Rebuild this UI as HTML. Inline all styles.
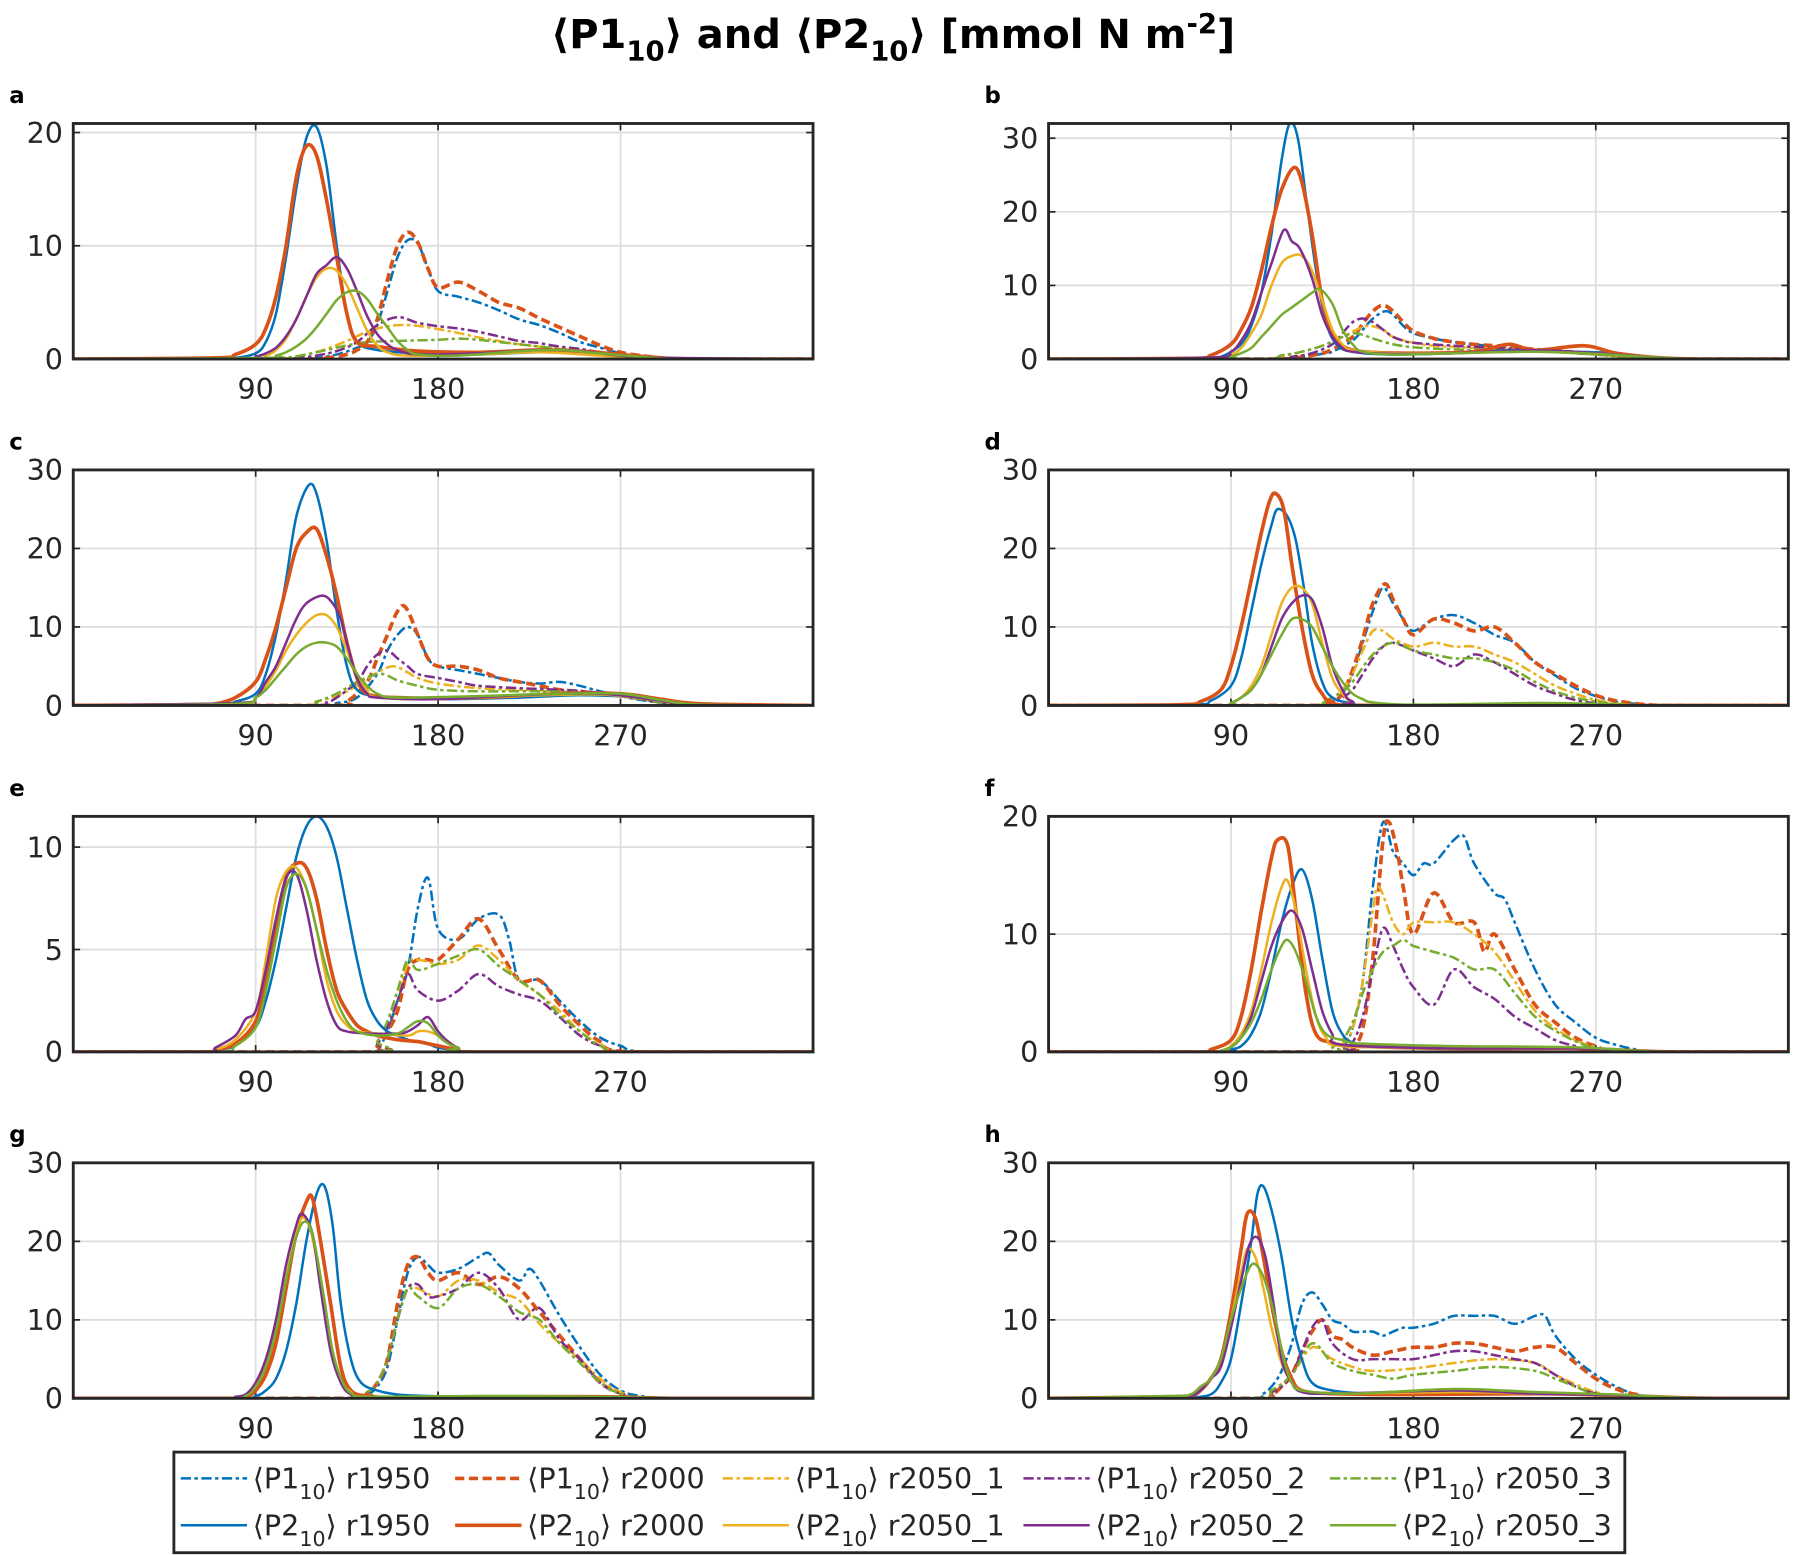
<!DOCTYPE html>
<html><head><meta charset="utf-8"><style>
html,body{margin:0;padding:0;background:#fff}
svg{display:block}
text{font-family:"DejaVu Sans","Liberation Sans",sans-serif;fill:#262626}
</style></head><body>
<svg id="chart" width="1793" height="1555" viewBox="0 0 1568 1360" xmlns="http://www.w3.org/2000/svg">
<text x="781" y="42" text-anchor="middle" font-size="35" font-weight="bold" style="fill:#000">⟨P1<tspan font-size="24" dy="11">10</tspan><tspan dy="-11">⟩ and ⟨P2</tspan><tspan font-size="24" dy="11">10</tspan><tspan dy="-11">⟩ [mmol N m</tspan><tspan font-size="24" dy="-13">-2</tspan><tspan dy="13">]</tspan></text>
<g id="panels"></g>
<g id="legend"></g>
</svg>
<script>
const days = [0,90,180,270,365];
const xTicks = [90,180,270];
const letters = ['a','b','c','d','e','f','g','h'];
const yMax = [20.8,32,30,30,11.5,20,30,30];
const yTicksA = [0,10,20];
const yTicksB = [0,10,20,30];
const yTicksE = [0,5,10];
const yTicksF = [0,10,20];
const runs = ['r1950','r2000','r2050_1','r2050_2','r2050_3'];

// panel a
const a_P2_r1950=[[0,0],[70,0],[80,0.1],[90,0.5],[95,1.5],[100,4],[105,9],[110,15],[115,19.5],[120,20.5],[125,17],[130,10],[135,4],[140,1.5],[150,0.8],[170,0.5],[200,0.4],[230,0.6],[250,0.5],[270,0.3],[290,0.1],[310,0],[365,0]];
const a_P2_r2000=[[0,0],[70,0.1],[80,0.4],[90,1.3],[95,2.7],[100,5.5],[105,10],[110,16],[115,18.8],[120,18],[125,14],[130,9],[135,4],[140,1.5],[150,1.1],[170,0.7],[200,0.6],[230,0.8],[250,0.7],[270,0.4],[290,0.1],[310,0],[365,0]];
const a_P2_r2050_1=[[0,0],[85,0],[95,0.3],[100,0.8],[105,1.8],[110,3.5],[115,5.5],[120,7.2],[125,8],[130,7.8],[135,6.5],[140,4.5],[145,2.5],[150,1.2],[155,0.6],[165,0.3],[200,0.4],[230,0.6],[260,0.3],[290,0],[365,0]];
const a_P2_r2050_2=[[0,0],[85,0],[90,0.2],[95,0.5],[100,1],[105,2],[110,3.5],[115,5.5],[120,7.5],[125,8.3],[130,9],[135,8],[140,6],[145,3.8],[150,2.2],[155,1.3],[160,0.8],[170,0.4],[200,0.5],[230,0.8],[250,0.7],[270,0.3],[290,0.1],[365,0]];
const a_P2_r2050_3=[[0,0],[95,0.1],[100,0.3],[105,0.6],[110,1.1],[115,1.8],[120,2.8],[125,4],[130,5.2],[135,5.9],[140,6],[145,5.3],[150,4],[155,2.8],[160,1.6],[165,0.8],[170,0.4],[190,0.3],[220,0.7],[240,0.8],[260,0.5],[280,0.2],[300,0],[365,0]];
const a_P1_r1950=[[0,0],[110,0],[120,0.1],[130,0.4],[140,1],[145,1.5],[150,3],[155,6],[160,9],[165,10.5],[170,10.2],[175,8],[180,6],[190,5.5],[200,5],[210,4.3],[220,3.5],[230,3],[240,2.3],[250,1.5],[260,1],[270,0.5],[280,0.2],[290,0.1],[300,0],[365,0]];
const a_P1_r2000=[[0,0],[115,0],[125,0.1],[135,0.4],[140,0.8],[145,1.5],[150,3.5],[155,7],[160,10],[165,11.2],[170,10.3],[175,8],[180,6.3],[190,6.8],[200,6],[210,5],[220,4.5],[230,3.6],[240,2.8],[250,2],[260,1.2],[270,0.6],[280,0.3],[290,0.1],[300,0],[365,0]];
const a_P1_r2050_1=[[0,0],[95,0],[105,0.1],[115,0.4],[125,0.9],[135,1.6],[145,2.4],[155,2.9],[165,3],[175,2.8],[190,2.3],[200,1.9],[210,1.6],[220,1.3],[240,0.9],[260,0.5],[280,0.2],[300,0],[365,0]];
const a_P1_r2050_2=[[0,0],[100,0],[110,0.1],[120,0.3],[130,0.7],[140,1.5],[150,3],[160,3.7],[170,3.2],[180,2.9],[190,2.7],[200,2.4],[210,2],[220,1.6],[230,1.4],[240,1.1],[250,0.9],[260,0.6],[270,0.4],[290,0.1],[300,0],[365,0]];
const a_P1_r2050_3=[[0,0],[95,0],[105,0.1],[115,0.4],[125,0.8],[135,1.2],[145,1.5],[160,1.6],[180,1.7],[190,1.8],[200,1.7],[210,1.5],[220,1.3],[240,0.9],[260,0.5],[280,0.2],[300,0],[365,0]];
// panel b
const b_P2_r1950=[[0,0],[75,0],[85,0.3],[95,2],[100,4.5],[105,9],[110,17],[115,27],[119,32],[123,30],[127,22],[132,12],[137,5],[142,2],[150,1],[170,0.6],[200,0.8],[230,1.2],[260,1],[280,0.8],[300,0.2],[320,0],[365,0]];
const b_P2_r2000=[[0,0],[70,0.1],[80,0.5],[90,2],[95,4],[100,7],[105,12],[110,18],[115,23],[121,26],[125,24],[130,17],[135,8],[140,3.5],[145,1.8],[155,1],[180,0.8],[210,1],[227,2],[240,1.2],[264,1.8],[280,0.8],[300,0.2],[320,0],[365,0]];
const b_P2_r2050_1=[[0,0],[80,0.1],[90,0.6],[95,1.5],[100,3.5],[105,6],[110,10],[115,13],[120,14],[125,14],[130,12],[135,8],[140,4],[145,2],[150,1.2],[170,0.8],[200,0.8],[240,1],[270,0.8],[300,0.2],[320,0],[365,0]];
const b_P2_r2050_2=[[0,0],[80,0.2],[90,1],[95,2.5],[100,5],[105,9],[110,13],[116,17.5],[120,16],[124,15],[130,11],[135,6],[140,3],[145,1.5],[150,1],[170,0.7],[200,0.8],[240,1.2],[270,0.8],[300,0.2],[320,0],[365,0]];
const b_P2_r2050_3=[[0,0],[85,0],[90,0.3],[95,0.8],[100,1.5],[105,3],[110,4.5],[115,6],[120,7],[125,8],[130,9],[134,9.5],[140,7.5],[145,4],[150,2],[155,1],[170,0.6],[200,0.8],[240,1],[270,0.7],[300,0.2],[320,0],[365,0]];
const b_P1_r1950=[[0,0],[110,0],[125,0.3],[135,0.7],[140,1],[150,2.5],[155,4],[160,5.5],[166,6.5],[170,6],[175,4.5],[180,3.5],[190,2.8],[200,2.3],[210,2],[220,1.7],[230,1.5],[240,1.3],[250,1.1],[260,0.9],[270,0.7],[280,0.5],[290,0.3],[310,0],[365,0]];
const b_P1_r2000=[[0,0],[110,0],[125,0.3],[135,0.8],[140,1.3],[150,3],[155,4.8],[160,6.5],[165,7.3],[170,6.5],[175,5],[180,3.8],[190,2.8],[200,2.3],[210,2],[220,1.8],[230,1.6],[240,1.3],[250,1.1],[260,0.9],[270,0.7],[280,0.5],[290,0.3],[310,0],[365,0]];
const b_P1_r2050_1=[[0,0],[100,0],[115,0.4],[125,1],[135,1.8],[145,3],[152,4],[158,4.5],[165,4],[170,3],[180,2.2],[190,1.8],[210,1.5],[240,1.1],[270,0.6],[290,0.2],[310,0],[365,0]];
const b_P1_r2050_2=[[0,0],[110,0],[120,0.3],[130,0.8],[140,2],[145,3.5],[150,5],[155,5.5],[160,5],[165,4],[170,3],[175,2.5],[180,2.2],[200,1.8],[220,1.5],[240,1.2],[270,0.6],[290,0.2],[310,0],[365,0]];
const b_P1_r2050_3=[[0,0],[100,0],[115,0.5],[125,1],[135,1.8],[145,3],[150,3.5],[155,3.3],[160,2.8],[170,2],[180,1.6],[200,1.3],[230,1.1],[260,0.8],[290,0.2],[310,0],[365,0]];
// panel c
const c_P2_r1950=[[0,0],[70,0.1],[80,0.5],[90,1.5],[95,4],[100,9],[105,16],[110,24],[116,28],[120,27],[125,21],[130,12],[135,5],[140,2],[150,1.2],[180,0.8],[220,1],[250,1.3],[280,1],[300,0.3],[320,0],[365,0]];
const c_P2_r2000=[[0,0],[60,0.1],[70,0.2],[80,1],[90,3],[95,6],[100,10],[105,15],[110,20],[115,22],[120,22.5],[125,19],[130,14],[135,8],[140,3.5],[145,1.5],[160,1],[200,1],[240,1.5],[270,1.5],[290,0.8],[310,0.2],[365,0]];
const c_P2_r2050_1=[[0,0],[80,0.3],[90,1],[95,2.5],[100,4.5],[105,7],[110,9],[115,10.5],[120,11.5],[125,11.5],[130,10],[135,7],[140,4],[145,2],[150,1],[180,0.8],[220,1.2],[260,1.4],[290,0.6],[310,0.1],[365,0]];
const c_P2_r2050_2=[[0,0],[80,0.3],[90,1],[95,3],[100,5],[105,8],[110,11],[115,13],[123,14],[128,13],[132,11],[136,7],[140,3.5],[145,1.5],[150,1],[180,0.8],[220,1.3],[260,1.5],[290,0.6],[310,0.1],[365,0]];
const c_P2_r2050_3=[[0,0],[80,0.2],[90,1],[95,2],[100,3.5],[105,5],[110,6.5],[115,7.5],[120,8],[125,8],[130,7.5],[135,6],[140,4],[145,2.5],[150,1.5],[160,1],[200,1.2],[240,1.5],[270,1.5],[290,0.7],[310,0.1],[365,0]];
const c_P1_r1950=[[0,0],[120,0],[130,0.3],[140,1],[150,4],[155,7],[160,9],[165,10],[170,9],[175,6],[180,5],[190,4.5],[200,4],[210,3.5],[220,3],[230,2.8],[240,3],[250,2.5],[260,1.8],[270,1.2],[280,0.7],[295,0.2],[310,0],[365,0]];
const c_P1_r2000=[[0,0],[125,0],[135,0.5],[145,3],[150,6],[155,9],[160,12],[164,12.5],[170,9],[175,6],[180,5],[190,5],[200,4.5],[210,3.5],[220,3],[230,2.5],[240,2],[250,1.8],[260,1.5],[270,1.3],[280,1],[295,0.3],[310,0],[365,0]];
const c_P1_r2050_1=[[0,0],[110,0],[120,0.5],[130,1.2],[140,2.5],[150,4.2],[158,5],[165,4.2],[170,3.5],[180,2.8],[200,2.2],[220,2],[240,1.8],[260,1.5],[280,0.8],[300,0.2],[365,0]];
const c_P1_r2050_2=[[0,0],[115,0],[125,0.4],[130,1],[140,3],[145,5],[150,6.5],[155,7],[160,6],[165,5],[170,4],[180,3.5],[190,3],[200,2.5],[220,2.2],[240,2],[260,1.6],[280,0.8],[300,0.2],[365,0]];
const c_P1_r2050_3=[[0,0],[110,0],[120,0.5],[130,1.5],[140,3],[150,4],[155,3.8],[160,3.2],[170,2.5],[180,2],[200,1.8],[230,1.8],[260,1.5],[280,0.8],[300,0.2],[365,0]];
// panel d
const d_P2_r1950=[[0,0],[70,0.1],[80,0.6],[90,2.5],[95,6],[100,12],[105,18],[110,23],[113,25],[118,24],[122,21],[126,15],[130,8],[135,3],[140,1],[150,0.3],[170,0],[365,0]];
const d_P2_r2000=[[0,0],[65,0.1],[75,0.5],[85,2],[90,5],[95,10],[100,16],[105,22],[109,26],[112,27],[116,25],[120,18],[125,10],[130,4],[135,1.5],[140,0.5],[160,0],[365,0]];
const d_P2_r2050_1=[[0,0],[85,0],[90,0.3],[95,1],[100,2.5],[105,5],[110,9],[115,13],[120,15],[125,15],[130,13],[135,8],[140,3.5],[145,1.5],[150,0.5],[165,0],[365,0]];
const d_P2_r2050_2=[[0,0],[85,0],[90,0.3],[95,1],[100,2],[105,4],[110,7.5],[115,11],[120,13],[125,14],[130,13.5],[135,10],[140,5],[145,2],[150,0.5],[165,0],[365,0]];
const d_P2_r2050_3=[[0,0],[85,0],[90,0.3],[95,1],[100,2],[105,4],[110,6.5],[115,9],[120,11],[125,11],[130,10],[135,7.5],[140,5],[145,3],[150,1.5],[155,0.8],[160,0.4],[180,0.1],[240,0.3],[270,0.2],[300,0],[365,0]];
const d_P1_r1950=[[0,0],[125,0],[135,0.2],[140,0.5],[145,1.5],[150,4],[155,8],[160,12],[165,15],[170,13],[175,11],[180,9.5],[190,11],[200,11.5],[210,10.5],[220,9],[230,8],[240,5.5],[250,3.8],[260,2.2],[270,1.2],[280,0.5],[295,0.1],[310,0],[365,0]];
const d_P1_r2000=[[0,0],[125,0],[135,0.2],[140,0.5],[145,1.5],[150,4.5],[155,8.5],[160,13],[166,15.5],[170,13.5],[175,11],[180,9],[190,11],[200,10.5],[210,9.5],[220,10],[230,8],[240,5.5],[250,4],[260,2.5],[270,1.3],[280,0.6],[295,0.1],[310,0],[365,0]];
const d_P1_r2050_1=[[0,0],[125,0],[135,0.5],[140,1],[145,2],[150,4],[155,7],[160,9.5],[165,9.5],[170,8.5],[180,7.5],[190,8],[200,7.5],[210,7.5],[220,6.5],[230,5.5],[240,4],[250,2.5],[260,1.5],[270,0.7],[285,0.1],[300,0],[365,0]];
const d_P1_r2050_2=[[0,0],[130,0],[140,0.4],[145,1],[150,2],[155,4],[160,6],[165,7.5],[170,8],[180,7],[190,6],[200,5],[210,6.5],[220,5.5],[230,4],[240,2.5],[250,1.5],[260,0.7],[275,0.1],[290,0],[365,0]];
const d_P1_r2050_3=[[0,0],[125,0],[135,0.5],[140,1],[145,1.8],[150,3],[160,6.5],[170,8],[180,7],[190,6.5],[200,6],[210,6],[220,5.5],[230,4.5],[240,3],[250,1.8],[260,1],[270,0.5],[285,0.1],[300,0],[365,0]];
// panel e
const e_P2_r1950=[[0,0],[65,0],[70,0.1],[80,0.3],[90,1.2],[95,2.5],[100,4.5],[105,7],[110,9.5],[115,11],[120,11.5],[125,11],[130,9.5],[135,7],[140,4.5],[145,2.5],[150,1.5],[155,1],[160,0.8],[165,0.6],[170,0.5],[175,0.4],[180,0.2],[190,0.1],[200,0],[365,0]];
const e_P2_r2000=[[0,0],[65,0],[70,0.1],[80,0.4],[90,1.5],[95,3.5],[100,6],[105,8.5],[110,9.2],[115,9],[120,7.5],[125,5],[130,3],[135,2],[140,1.3],[145,1],[150,0.8],[160,0.6],[170,0.5],[175,0.4],[180,0.3],[190,0.1],[200,0],[365,0]];
const e_P2_r2050_1=[[0,0],[65,0],[70,0.1],[80,0.6],[90,2],[95,4.5],[100,7.5],[105,8.8],[110,9],[115,8],[120,6],[125,3.5],[130,2],[135,1.3],[140,1],[150,0.9],[165,0.8],[170,1],[175,1],[180,0.8],[185,0.5],[190,0.2],[200,0],[365,0]];
const e_P2_r2050_2=[[0,0],[65,0],[70,0.2],[80,0.8],[85,1.6],[90,2],[95,4],[100,6.5],[105,8.5],[110,8.7],[115,7],[120,4.5],[125,2.5],[130,1.3],[135,1],[145,0.9],[160,0.9],[165,1],[170,1.3],[175,1.7],[180,1],[185,0.5],[190,0.2],[200,0],[365,0]];
const e_P2_r2050_3=[[0,0],[70,0],[80,0.3],[90,1.2],[95,3],[100,5.5],[105,8],[110,8.7],[115,8],[120,6],[125,4],[130,2.5],[135,1.5],[140,1],[150,0.8],[160,0.9],[165,1.2],[170,1.5],[175,1.4],[180,0.8],[185,0.4],[190,0.2],[200,0],[365,0]];
const e_P1_r1950=[[0,0],[140,0],[150,0.2],[155,1],[160,2.5],[165,4],[170,7],[175,8.5],[180,6],[190,5.5],[200,6.5],[210,6.7],[215,5.5],[220,3.5],[230,3.5],[240,2.5],[250,1.5],[260,0.7],[270,0.3],[285,0],[365,0]];
const e_P1_r2000=[[0,0],[145,0],[150,0.3],[155,1],[160,2],[165,4],[170,4.5],[175,4.5],[180,4.5],[190,5.5],[200,6.5],[210,5],[220,3.5],[230,3.5],[240,2.3],[250,1.3],[260,0.5],[275,0],[365,0]];
const e_P1_r2050_1=[[0,0],[145,0],[150,0.4],[155,1.2],[160,2.5],[165,4.3],[170,4.5],[180,4.3],[190,4.5],[200,5.2],[210,4.5],[220,3.5],[230,2.8],[240,2],[250,1],[260,0.4],[275,0],[365,0]];
const e_P1_r2050_2=[[0,0],[145,0],[150,0.4],[155,1.2],[160,2.5],[165,3.8],[170,3],[180,2.5],[190,3],[200,3.8],[210,3.2],[220,2.8],[230,2.5],[240,1.7],[250,0.8],[260,0.3],[275,0],[365,0]];
const e_P1_r2050_3=[[0,0],[145,0],[150,0.5],[155,1.5],[160,3],[165,4.5],[170,4],[180,4.3],[190,4.7],[200,5],[210,4.2],[220,3.5],[230,2.8],[240,1.8],[250,1],[260,0.3],[275,0],[365,0]];
// panel f
const f_P2_r1950=[[0,0],[85,0],[90,0.2],[95,0.5],[100,1.5],[105,3.5],[110,7],[115,11],[120,14],[125,15.5],[130,13],[135,8],[140,3.5],[145,1.5],[150,0.8],[160,0.5],[200,0.4],[260,0.3],[290,0.1],[310,0],[365,0]];
const f_P2_r2000=[[0,0],[75,0],[80,0.2],[90,1],[95,3],[100,7],[105,12],[110,16.5],[113,18],[118,17.5],[122,12],[127,5],[132,1.5],[140,0.8],[150,0.5],[200,0.3],[260,0.3],[290,0.1],[310,0],[365,0]];
const f_P2_r2050_1=[[0,0],[80,0],[85,0.1],[90,0.5],[95,1.5],[100,3.5],[105,7],[110,11],[115,14],[118,14.5],[122,12],[127,7],[132,3],[137,1.2],[145,0.5],[200,0.3],[260,0.3],[290,0.1],[310,0],[365,0]];
const f_P2_r2050_2=[[0,0],[80,0],[85,0.1],[90,0.4],[95,1.2],[100,3],[105,6],[110,9],[115,11],[120,12],[125,10.5],[130,7],[135,3.5],[140,1.5],[145,0.6],[200,0.3],[260,0.3],[290,0.1],[310,0],[365,0]];
const f_P2_r2050_3=[[0,0],[80,0],[85,0.1],[90,0.4],[95,1.2],[100,2.5],[105,4.5],[110,7],[115,9],[118,9.5],[122,8.5],[127,6],[132,3],[137,1.5],[145,1],[155,0.7],[200,0.5],[260,0.4],[290,0.1],[310,0],[365,0]];
const f_P1_r1950=[[0,0],[135,0],[145,0.5],[150,2],[155,6],[160,14],[165,19.5],[170,17],[175,16],[180,15],[185,16],[190,16],[200,18],[205,18.3],[210,16],[220,13.5],[225,13],[230,11],[240,7],[250,4],[260,2.5],[270,1.2],[280,0.6],[290,0.2],[300,0],[365,0]];
const f_P1_r2000=[[0,0],[140,0],[150,0.5],[155,2],[160,8],[165,18],[168,19.5],[172,17],[175,14],[180,10],[190,13.5],[200,11],[210,11],[215,8.5],[220,10],[230,7],[240,4],[250,2.5],[260,1.2],[270,0.5],[285,0],[365,0]];
const f_P1_r2050_1=[[0,0],[135,0],[145,0.7],[150,2],[155,6],[160,12],[163,14],[170,11],[175,10],[180,11],[190,11],[200,11],[210,10],[220,8.5],[230,6],[240,3.5],[250,2],[260,1],[270,0.4],[285,0],[365,0]];
const f_P1_r2050_2=[[0,0],[140,0],[145,0.3],[150,0.8],[155,3],[160,7],[165,10.5],[170,9],[175,7],[180,5.5],[190,4],[200,7],[210,5.5],[220,4.5],[230,3],[240,2],[250,1],[260,0.5],[275,0],[365,0]];
const f_P1_r2050_3=[[0,0],[135,0],[140,0.4],[145,1],[150,2.5],[155,5],[160,7],[165,8.5],[170,9],[175,9.5],[180,9],[190,8.5],[200,8],[210,7],[220,7],[230,5],[240,3],[250,1.8],[260,0.9],[270,0.3],[285,0],[365,0]];
// panel g
const g_P2_r1950=[[0,0],[80,0],[90,0.3],[95,1],[100,2.5],[105,6],[110,12],[115,20],[120,26],[124,27],[128,22],[132,12],[137,5],[142,2],[150,1],[160,0.5],[175,0.3],[200,0.2],[260,0.2],[300,0],[365,0]];
const g_P2_r2000=[[0,0],[75,0],[85,0.2],[90,1],[95,3],[100,7],[105,14],[110,21],[115,25],[118,25.5],[122,20],[127,12],[132,4],[137,1],[145,0.3],[160,0.1],[200,0.2],[260,0.2],[300,0],[365,0]];
const g_P2_r2050_1=[[0,0],[75,0],[85,0.5],[90,1.8],[95,4.5],[100,9],[105,15.5],[110,21],[113,23],[117,21.5],[122,15],[127,7],[132,2.5],[137,0.8],[145,0.2],[200,0.2],[260,0.2],[300,0],[365,0]];
const g_P2_r2050_2=[[0,0],[75,0],[80,0.2],[85,0.5],[90,2],[95,5],[100,10],[105,17],[110,22],[113,23.5],[118,21],[122,14],[127,6],[132,2],[137,0.5],[145,0.2],[200,0.2],[260,0.2],[300,0],[365,0]];
const g_P2_r2050_3=[[0,0],[75,0],[85,0.3],[90,1.5],[95,4],[100,8.5],[105,15],[110,20.5],[114,22.5],[118,21],[123,14],[128,6],[133,2],[138,0.5],[145,0.2],[200,0.3],[260,0.2],[300,0],[365,0]];
const g_P1_r1950=[[0,0],[135,0],[145,0.5],[150,1.5],[155,4],[160,10],[165,16],[170,18],[175,17],[180,16],[190,16.5],[200,18],[205,18.5],[210,17],[220,15],[225,16.5],[230,15],[240,10.5],[250,6.5],[260,3],[270,1],[280,0.3],[295,0],[365,0]];
const g_P1_r2000=[[0,0],[135,0],[145,0.7],[150,2],[155,5],[160,12],[165,17],[170,18],[175,16],[180,15],[190,16],[200,14.5],[210,15.5],[220,14],[230,11],[240,8],[250,5],[260,2],[270,0.7],[285,0],[365,0]];
const g_P1_r2050_1=[[0,0],[135,0],[145,0.8],[150,2],[155,5],[160,10],[165,14],[170,14],[180,13],[190,15],[200,15],[210,13.5],[220,12.5],[230,9.5],[240,7],[250,5],[260,2.5],[270,0.8],[285,0],[365,0]];
const g_P1_r2050_2=[[0,0],[135,0],[145,0.8],[150,2],[155,5],[160,10],[165,14],[170,14.5],[175,13],[180,13],[190,14],[200,16],[210,14],[220,10],[230,11.5],[240,7.5],[250,5],[260,2],[270,0.6],[285,0],[365,0]];
const g_P1_r2050_3=[[0,0],[135,0],[145,0.8],[150,2],[155,5],[160,10],[165,14],[170,13],[180,11.5],[190,14],[200,14.5],[210,13],[220,11],[230,10],[240,7],[250,4.5],[260,2],[270,0.6],[285,0],[365,0]];
// panel h
const h_P2_r1950=[[0,0],[60,0.1],[70,0.1],[80,0.5],[85,2],[90,5],[95,12],[100,20],[103,26],[106,27],[110,24],[115,18],[120,10],[125,5],[130,2],[140,1],[160,0.6],[200,0.6],[240,0.6],[280,0.4],[310,0.1],[330,0],[365,0]];
const h_P2_r2000=[[0,0],[60,0.2],[70,0.3],[75,1],[80,2.5],[85,5],[90,11],[95,19],[98,23.5],[102,23],[106,18],[110,12],[115,6],[120,2.5],[125,1],[140,0.6],[180,0.5],[240,0.6],[280,0.4],[310,0.1],[330,0],[365,0]];
const h_P2_r2050_1=[[0,0],[60,0.2],[70,0.3],[75,1],[80,2.5],[85,5],[90,10],[95,16],[98,19],[102,18],[106,14],[110,9],[115,4.5],[120,2],[125,1],[140,0.6],[200,0.8],[240,0.6],[280,0.4],[310,0.1],[330,0],[365,0]];
const h_P2_r2050_2=[[0,0],[60,0.2],[70,0.3],[75,1],[80,2.5],[85,4],[90,9],[95,15],[99,19.5],[103,20.5],[107,18],[111,12],[115,5],[120,2],[125,0.8],[140,0.6],[200,1],[240,0.6],[280,0.4],[310,0.1],[330,0],[365,0]];
const h_P2_r2050_3=[[0,0],[60,0.3],[70,0.5],[75,1.5],[80,2.5],[85,5],[90,10],[95,14],[100,17],[104,16.5],[108,14],[112,10],[116,5],[120,2],[125,1],[150,0.6],[200,1.2],[240,0.8],[280,0.5],[310,0.1],[330,0],[365,0]];
const h_P1_r1950=[[0,0],[95,0],[105,0.5],[110,1.5],[115,3.5],[120,7],[125,12],[130,13.5],[135,12],[140,10],[145,9.5],[150,8.5],[155,8.5],[160,8.5],[165,8],[170,8.5],[175,9],[180,9],[190,9.5],[200,10.5],[210,10.5],[220,10.5],[230,9.5],[240,10.5],[245,10.5],[250,8],[260,5],[270,3],[280,1.5],[290,0.5],[305,0],[365,0]];
const h_P1_r2000=[[0,0],[100,0],[110,0.5],[115,1.5],[120,3],[125,6],[130,8.5],[135,10],[140,8],[145,7.5],[150,6.5],[160,5.5],[170,6],[180,6.5],[190,6.5],[200,7],[210,7],[220,6.5],[230,6],[240,6.5],[250,6.5],[260,4.5],[270,2.5],[280,1.2],[290,0.5],[305,0],[365,0]];
const h_P1_r2050_1=[[0,0],[100,0],[110,1],[120,3],[130,6.5],[140,5],[150,4],[160,3.5],[180,3.8],[200,4.5],[220,5],[240,4.5],[250,3],[260,1.8],[270,0.8],[285,0.1],[300,0],[365,0]];
const h_P1_r2050_2=[[0,0],[100,0],[110,0.8],[115,1.5],[120,3],[125,6],[130,9],[135,10],[140,7],[150,5],[160,5],[170,5],[180,5],[190,5.5],[200,6],[210,6],[220,5.5],[230,5],[240,4.5],[250,3],[260,1.5],[270,0.6],[285,0],[365,0]];
const h_P1_r2050_3=[[0,0],[100,0],[110,1],[120,3],[130,7],[140,4.5],[150,3.5],[160,3],[170,2.5],[180,3],[200,3.5],[220,4],[240,3.5],[250,2.5],[260,1.5],[270,0.5],[285,0],[365,0]];

const P1sets = [
 [a_P1_r1950,a_P1_r2000,a_P1_r2050_1,a_P1_r2050_2,a_P1_r2050_3],
 [b_P1_r1950,b_P1_r2000,b_P1_r2050_1,b_P1_r2050_2,b_P1_r2050_3],
 [c_P1_r1950,c_P1_r2000,c_P1_r2050_1,c_P1_r2050_2,c_P1_r2050_3],
 [d_P1_r1950,d_P1_r2000,d_P1_r2050_1,d_P1_r2050_2,d_P1_r2050_3],
 [e_P1_r1950,e_P1_r2000,e_P1_r2050_1,e_P1_r2050_2,e_P1_r2050_3],
 [f_P1_r1950,f_P1_r2000,f_P1_r2050_1,f_P1_r2050_2,f_P1_r2050_3],
 [g_P1_r1950,g_P1_r2000,g_P1_r2050_1,g_P1_r2050_2,g_P1_r2050_3],
 [h_P1_r1950,h_P1_r2000,h_P1_r2050_1,h_P1_r2050_2,h_P1_r2050_3]];
const P2sets = [
 [a_P2_r1950,a_P2_r2000,a_P2_r2050_1,a_P2_r2050_2,a_P2_r2050_3],
 [b_P2_r1950,b_P2_r2000,b_P2_r2050_1,b_P2_r2050_2,b_P2_r2050_3],
 [c_P2_r1950,c_P2_r2000,c_P2_r2050_1,c_P2_r2050_2,c_P2_r2050_3],
 [d_P2_r1950,d_P2_r2000,d_P2_r2050_1,d_P2_r2050_2,d_P2_r2050_3],
 [e_P2_r1950,e_P2_r2000,e_P2_r2050_1,e_P2_r2050_2,e_P2_r2050_3],
 [f_P2_r1950,f_P2_r2000,f_P2_r2050_1,f_P2_r2050_2,f_P2_r2050_3],
 [g_P2_r1950,g_P2_r2000,g_P2_r2050_1,g_P2_r2050_2,g_P2_r2050_3],
 [h_P2_r1950,h_P2_r2000,h_P2_r2050_1,h_P2_r2050_2,h_P2_r2050_3]];
const yTickSets = [yTicksA,yTicksB,yTicksB,yTicksB,yTicksE,yTicksF,yTicksB,yTicksB];

const colors = ['#0072BD','#D95319','#EDB120','#7E2F8E','#77AC30'];
const widths = [2.2,3.2,2.2,2.2,2.2];
const p1Dash = ['9 3 3 3','8 4','9 3 3 3','9 3 3 3','9 3 3 3'];
const NS='http://www.w3.org/2000/svg';
const colX=[64,917], rowY=[108,411,714,1017], W=647, H=206, XMAX=365;

function mk(tag,attrs,parent){const e=document.createElementNS(NS,tag);for(const k in attrs)e.setAttribute(k,attrs[k]);parent.appendChild(e);return e;}
function pathFrom(pts,sx,sy){
  const p=pts.map(d=>[sx(d[0]),sy(d[1])]);
  let s='M'+p[0][0].toFixed(1)+','+p[0][1].toFixed(1);
  for(let i=0;i<p.length-1;i++){
    const p0=p[i-1]||p[i],p1=p[i],p2=p[i+1],p3=p[i+2]||p2;
    let c1y=p1[1]+(p2[1]-p0[1])/6, c2y=p2[1]-(p3[1]-p1[1])/6;
    const base=sy(0); c1y=Math.min(c1y,base); c2y=Math.min(c2y,base);
    s+=' C'+(p1[0]+(p2[0]-p0[0])/6).toFixed(1)+','+c1y.toFixed(1)+' '+(p2[0]-(p3[0]-p1[0])/6).toFixed(1)+','+c2y.toFixed(1)+' '+p2[0].toFixed(1)+','+p2[1].toFixed(1);
  }
  return s;
}
const root=document.getElementById('panels');
letters.forEach((L,i)=>{
  const x0=colX[i%2], y0=rowY[Math.floor(i/2)];
  const sx=d=>x0+d/XMAX*W, sy=v=>y0+H-v/yMax[i]*H;
  const g=mk('g',{},root);
  
  
  const lab=mk('text',{x:x0-56,y:y0-18,'font-size':20,'font-weight':'bold',style:'fill:#000'},g);
  
  
  lab.textContent=L;
  const cp=mk('clipPath',{id:'clip'+L},g);mk('rect',{x:x0,y:y0,width:W,height:H},cp);
  xTicks.forEach(t=>{
    const gl=mk('line',{x1:sx(t),x2:sx(t),y1:y0,y2:y0+H,stroke:'#dcdcdc','stroke-width':1.5},g);
    
    
    const tl=mk('text',{x:sx(t),y:y0+H+35,'text-anchor':'middle','font-size':25},g);
    
    
    tl.textContent=t;
    mk('line',{x1:sx(t),x2:sx(t),y1:y0,y2:y0+6,stroke:'#262626','stroke-width':1.5},g);
    mk('line',{x1:sx(t),x2:sx(t),y1:y0+H,y2:y0+H-6,stroke:'#262626','stroke-width':1.5},g);
  });
  yTickSets[i].forEach(t=>{
    const gl=mk('line',{x1:x0,x2:x0+W,y1:sy(t),y2:sy(t),stroke:'#dcdcdc','stroke-width':1.5},g);
    
    
    const tl=mk('text',{x:x0-9,y:sy(t)+9,'text-anchor':'end','font-size':25},g);
    
    
    tl.textContent=t;
    mk('line',{x1:x0,x2:x0+6,y1:sy(t),y2:sy(t),stroke:'#262626','stroke-width':1.5},g);
    mk('line',{x1:x0+W,x2:x0+W-6,y1:sy(t),y2:sy(t),stroke:'#262626','stroke-width':1.5},g);
  });
  const lg=mk('g',{'clip-path':'url(#clip'+L+')'},g);
  runs.forEach((r,k)=>{
    const l=mk('path',{d:pathFrom(P1sets[i][k],sx,sy),fill:'none',stroke:colors[k],'stroke-width':widths[k],'stroke-dasharray':p1Dash[k],'stroke-linejoin':'round'},lg);
    
    
  });
  runs.forEach((r,k)=>{
    const l=mk('path',{d:pathFrom(P2sets[i][k],sx,sy),fill:'none',stroke:colors[k],'stroke-width':widths[k],'stroke-linejoin':'round'},lg);
    
    
  });
  const box=mk('rect',{x:x0,y:y0,width:W,height:H,fill:'none',stroke:'#262626','stroke-width':2.5},g);
  
  
});
// legend
const leg=document.getElementById('legend');
mk('rect',{x:152,y:1270,width:1269,height:88,fill:'#fff',stroke:'#262626','stroke-width':2.5},leg);
const legX=[158,398,632,895,1163];
const runLabels=['r1950','r2000','r2050_1','r2050_2','r2050_3'];
[0,1].forEach(row=>{
  const y=1293+row*41;
  runs.forEach((r,k)=>{
    const e=mk('g',{},leg);
    
    
    const at={x1:legX[k],x2:legX[k]+58,y1:y,y2:y,stroke:colors[k],'stroke-width':widths[k]};
    if(row===0) at['stroke-dasharray']=p1Dash[k];
    mk('line',at,e);
    const t=mk('text',{x:legX[k]+63,y:y+9,'font-size':25},e);
    t.innerHTML='⟨P'+(row+1)+'<tspan font-size="18" dy="9">10</tspan><tspan dy="-9">⟩ '+runLabels[k]+'</tspan>';
  });
});
</script>
</body></html>
